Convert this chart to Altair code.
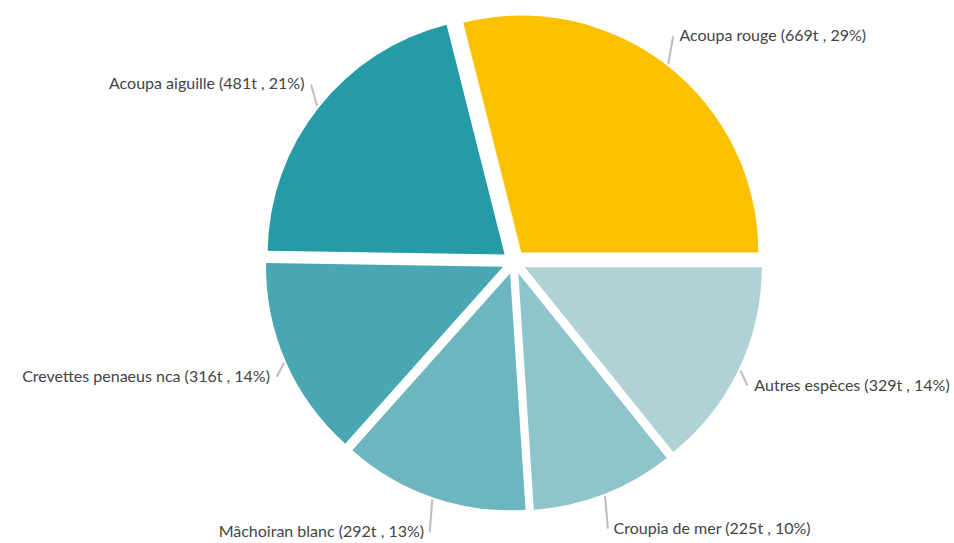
import math
import altair as alt
import pandas as pd

# Data (clockwise from 3 o'clock)
species = ["Autres espèces", "Croupia de mer", "Mâchoiran blanc",
           "Crevettes penaeus nca", "Acoupa aiguille", "Acoupa rouge"]
tonnes = [329, 225, 292, 316, 481, 669]
percent = [14, 10, 13, 14, 21, 29]
colors = ["#B0D2D7", "#8EC4CC", "#6DB6BF", "#48A7B2", "#259BA6", "#FBC100"]

df = pd.DataFrame({
    "species": species,
    "tonnes": tonnes,
    "pct": percent,
    "order": list(range(len(species))),
})
df["label"] = [f"{s} ({t}t , {p}%)" for s, t, p in zip(species, tonnes, percent)]

W, H = 880, 524
CX, CY = W / 2, H / 2
R = 237
EXPLODE = 12
START = math.pi / 2
LA, LB = 261, 286   # label ellipse (horizontal, vertical)

base = alt.Chart(df)

geo = (
    base.transform_joinaggregate(total="sum(tonnes)")
    .transform_window(cum="sum(tonnes)", sort=[alt.SortField("order")], frame=[None, 0])
    .transform_calculate(mid=f"{START} + 2*PI*(datum.cum - datum.tonnes/2)/datum.total")
    .transform_calculate(
        ax=f"{CX} + {EXPLODE}*sin(datum.mid)",
        ay=f"{CY} - {EXPLODE}*cos(datum.mid)",
        x1=f"{CX} + 251*sin(datum.mid)",
        y1=f"{CY} - 251*cos(datum.mid)",
        x2=f"{CX} + {LA - 2}*sin(datum.mid)",
        y2=f"{CY} - {LB}*cos(datum.mid)",
        tx=f"{CX} + {LA}*sin(datum.mid)",
        ty=f"{CY} - {LB}*cos(datum.mid)",
        side="sin(datum.mid) >= 0 ? 'r' : 'l'",
    )
)

arcs = geo.mark_arc(outerRadius=R).encode(
    theta=alt.Theta("tonnes:Q", stack=True,
                    scale=alt.Scale(range=[START, START + 2 * math.pi])),
    x=alt.X("ax:Q", scale=None, axis=None),
    y=alt.Y("ay:Q", scale=None, axis=None),
    color=alt.Color("species:N", scale=alt.Scale(domain=species, range=colors),
                    legend=None),
    order=alt.Order("order:Q"),
)

rules = geo.mark_rule(color="#BDBDBD", strokeWidth=2).encode(
    x=alt.X("x1:Q", scale=None, axis=None),
    y=alt.Y("y1:Q", scale=None, axis=None),
    x2="x2:Q",
    y2="y2:Q",
)

txt_style = dict(fontSize=16, font="Lato", color="#444444", baseline="middle")

text_r = geo.transform_filter("datum.side == 'r'").mark_text(
    align="left", dx=5, **txt_style
).encode(
    x=alt.X("tx:Q", scale=None, axis=None),
    y=alt.Y("ty:Q", scale=None, axis=None),
    text="label:N",
)

text_l = geo.transform_filter("datum.side == 'l'").mark_text(
    align="right", dx=-5, **txt_style
).encode(
    x=alt.X("tx:Q", scale=None, axis=None),
    y=alt.Y("ty:Q", scale=None, axis=None),
    text="label:N",
)

chart = alt.layer(arcs, rules, text_r, text_l).properties(
    width=W,
    height=H,
    autosize="none",
    padding={"left": 74, "top": 0, "right": 0, "bottom": 19},
).configure_view(stroke=None)

chart.save("out.html", embed_options={"renderer": "svg", "actions": False})
